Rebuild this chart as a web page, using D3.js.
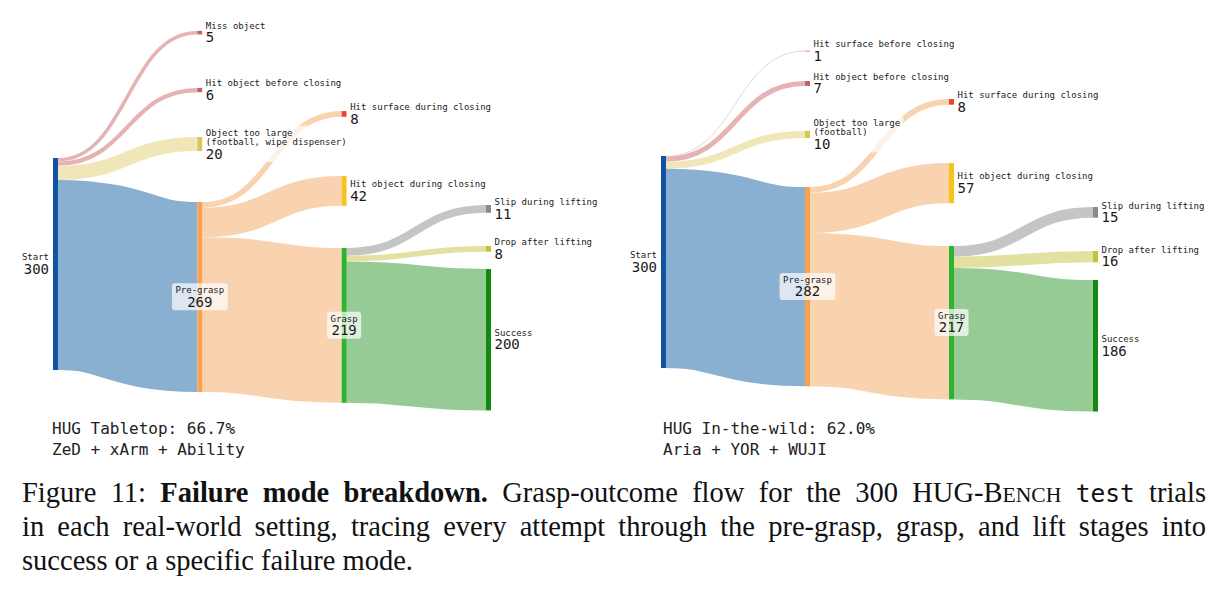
<!DOCTYPE html>
<html>
<head>
<meta charset="utf-8">
<script src="https://cdn.jsdelivr.net/npm/d3@7"></script>
<style>
  body { margin: 0; background: #fff; }
  svg { display: block; }
</style>
</head>
<body>
<div id="chart"></div>
<script>
// ---- data ----
var stages = ["Start", "Pre-grasp", "Grasp", "Success"];

var tabletopCounts = [300, 269, 219, 200];
var tabletopFailLabels = [
    ["Miss object", "Hit object before closing", "Object too large\n(football, wipe dispenser)"],
    ["Hit surface during closing", "Hit object during closing"],
    ["Slip during lifting", "Drop after lifting"]
];
var tabletopFailCounts = [[5, 6, 20], [8, 42], [11, 8]];
var tabletopTitle = ["HUG Tabletop: 66.7%", "ZeD + xArm + Ability"];

var wildCounts = [300, 282, 217, 186];
var wildFailLabels = [
    ["Hit surface before closing", "Hit object before closing", "Object too large\n(football)"],
    ["Hit surface during closing", "Hit object during closing"],
    ["Slip during lifting", "Drop after lifting"]
];
var wildFailCounts = [[1, 7, 10], [8, 57], [15, 16]];
var wildTitle = ["HUG In-the-wild: 62.0%", "Aria + YOR + WUJI"];

var captionLines = [
    [["Figure"], ["11:"], [{b: "Failure"}], [{b: "mode"}], [{b: "breakdown."}], ["Grasp-outcome"], ["flow"],
     ["for"], ["the"], ["300"], ["HUG-B", {sc: "ENCH"}], [{tt: "test"}], ["trials"]],
    [["in"], ["each"], ["real-world"], ["setting,"], ["tracing"], ["every"], ["attempt"], ["through"], ["the"],
     ["pre-grasp,"], ["grasp,"], ["and"], ["lift"], ["stages"], ["into"]],
    [["success"], ["or"], ["a"], ["specific"], ["failure"], ["mode."]]
];

// ---- styles ----
var stageColor = ["#0e54a0", "#f7a24e", "#2eb32e", "#128a12"];
var stageLinkColor = ["#8ab0d1", "#f9d3b0", "#96cb96"];
var failColor = {
    "Miss object": ["#c9605f", "#e5b3b3"],
    "Hit surface before closing": ["#c9605f", "#e8bcbc"],
    "Hit object before closing": ["#c9605f", "#e5b3b3"],
    "Object too large": ["#d8c45a", "#f0e6b7"],
    "Hit surface during closing": ["#e9452b", "#f9d3b0"],
    "Hit object during closing": ["#f6c31b", "#f9d3b0"],
    "Slip during lifting": ["#8a8a8a", "#c5c5c5"],
    "Drop after lifting": ["#c4c13a", "#e3e1a2"]
};
var mono = "DejaVu Sans Mono";
var nodeW = 5;

var svg = d3.select("#chart")
    .append("svg")
    .attr("width", 1227)
    .attr("height", 592);

// flow units -> pixels
var flow = d3.scaleLinear().domain([0, 300]).range([0, 212]);

function drawSankey(cfg) {
    var x = d3.scaleLinear().domain([0, 3]).range(cfg.xRange);
    var g = svg.append("g");
    var nodes = [], links = [];

    // main stage nodes
    var main = [];
    main[0] = {name: stages[0], value: cfg.counts[0], col: 0, y0: cfg.startTop, color: stageColor[0], kind: "start"};
    for (var c = 1; c < 4; c++) {
        var prev = main[c - 1];
        var failSum = d3.sum(cfg.failCounts[c - 1]);
        var linkTop = prev.y0 + flow(failSum);
        main[c] = {name: stages[c], value: cfg.counts[c], col: c, y0: linkTop + cfg.sag[c - 1],
                   color: stageColor[c], kind: c === 3 ? "end" : "mid"};
    }
    main.forEach(function (n) { n.y1 = n.y0 + flow(n.value); nodes.push(n); });

    // failure nodes, stacked upward from the main node of their column
    for (var c = 1; c < 4; c++) {
        var labels = cfg.failLabels[c - 1], counts = cfg.failCounts[c - 1];
        var gaps = cfg.gaps[c - 1];
        var top = main[c].y0;
        var fails = [];
        for (var j = labels.length - 1; j >= 0; j--) {
            var y1 = top - gaps[labels.length - 1 - j];
            var h = flow(counts[j]);
            var key = labels[j].split("\n")[0];
            fails[j] = {name: labels[j], value: counts[j], col: c, y0: y1 - h, y1: y1,
                        color: failColor[key][0], linkColor: failColor[key][1], kind: "end"};
            top = y1 - h;
        }
        // outgoing links of the source stage, in top-to-bottom order
        var sy = main[c - 1].y0;
        fails.forEach(function (f) {
            nodes.push(f);
            links.push({source: main[c - 1], target: f, sy: sy, value: f.value, color: f.linkColor});
            sy += flow(f.value);
        });
        links.push({source: main[c - 1], target: main[c], sy: sy, value: main[c].value, color: stageLinkColor[c - 1]});
    }

    nodes.forEach(function (n) { n.x0 = x(n.col); n.x1 = n.x0 + nodeW; });

    var linkGen = d3.linkHorizontal()
        .source(function (d) { return [d.source.x1, d.sy + flow(d.value) / 2]; })
        .target(function (d) { return [d.target.x0, (d.target.y0 + d.target.y1) / 2]; });

    g.append("g")
        .selectAll("path")
        .data(links)
        .enter()
        .append("path")
        .attr("d", linkGen)
        .attr("fill", "none")
        .attr("stroke", function (d) { return d.color; })
        .attr("stroke-width", function (d) { return Math.max(0.6, flow(d.value)); });

    g.append("g")
        .selectAll("rect")
        .data(nodes)
        .enter()
        .append("rect")
        .attr("x", function (d) { return d.x0; })
        .attr("y", function (d) { return d.y0; })
        .attr("width", nodeW)
        .attr("height", function (d) { return Math.max(0.7, d.y1 - d.y0); })
        .attr("fill", function (d) { return d.color; });

    // labels
    nodes.forEach(function (n) {
        var lines = n.name.split("\n");
        var nameH = 7 + (lines.length - 1) * 9.5;
        var blockH = nameH + 13.5;
        var cy = (n.y0 + n.y1) / 2;
        var top = cy - blockH / 2 - 0.5;
        var tx, anchor;
        if (n.kind === "start") { tx = n.x0 - 4; anchor = "end"; }
        else if (n.kind === "mid") { tx = (n.x0 + n.x1) / 2; anchor = "middle"; }
        else { tx = n.x1 + 3.5; anchor = "start"; }

        var lg = g.append("g");
        var box = lg.append("rect");
        var t = lg.append("text")
            .attr("font-family", mono)
            .attr("fill", "#1a1a1a")
            .attr("text-anchor", anchor);
        lines.forEach(function (s, i) {
            t.append("tspan").attr("x", tx).attr("y", top + 7 + i * 9.5)
                .attr("font-size", 9).text(s);
        });
        t.append("tspan").attr("x", tx).attr("y", top + blockH)
            .attr("font-size", 14).text(n.value);

        var bb = t.node().getBBox();
        box.attr("x", bb.x - 3.5).attr("y", top - 3)
            .attr("width", bb.width + 7).attr("height", blockH + 6.5)
            .attr("rx", 3)
            .attr("fill", "#fff")
            .attr("fill-opacity", n.kind === "start" ? 0 : 0.7);
    });

    // bottom title
    var tt = g.append("text")
        .attr("font-family", mono)
        .attr("font-size", 16)
        .attr("fill", "#222");
    cfg.title.forEach(function (s, i) {
        tt.append("tspan").attr("x", cfg.titleX).attr("y", 434 + i * 21).text(s);
    });
}

drawSankey({
    xRange: [53, 486], startTop: 158,
    counts: tabletopCounts, failLabels: tabletopFailLabels, failCounts: tabletopFailCounts,
    sag: [22.1, 10.7, 7.6],
    gaps: [[50.9, 44.8, 53.5], [42.3, 59.3], [17.4, 33.2]],
    title: tabletopTitle, titleX: 52
});

drawSankey({
    xRange: [661, 1093], startTop: 156,
    counts: wildCounts, failLabels: wildFailLabels, failCounts: wildFailCounts,
    sag: [18.3, 13.1, 12.1],
    gaps: [[49, 45, 29.6], [42.7, 58.4], [17.7, 33.4]],
    title: wildTitle, titleX: 663
});

// ---- caption, justified by hand ----
function drawCaption() {
    var size = 28.5, left = 22, right = 1206;
    var cg = svg.append("g").attr("font-family", "Liberation Serif").attr("fill", "#111");
    captionLines.forEach(function (words, li) {
        var y = 502 + li * 34;
        var items = words.map(function (w) {
            var t = cg.append("text").attr("y", y).attr("font-size", size);
            w.forEach(function (seg) {
                if (typeof seg === "string") t.append("tspan").text(seg);
                else if (seg.b) t.append("tspan").attr("font-weight", "bold").text(seg.b);
                else if (seg.sc) t.append("tspan").attr("font-size", size * 0.76).text(seg.sc);
                else if (seg.tt) t.append("tspan").attr("font-family", mono).attr("font-size", size * 0.86).text(seg.tt);
            });
            return {t: t, w: t.node().getComputedTextLength()};
        });
        var total = d3.sum(items, function (d) { return d.w; });
        var gap = li < captionLines.length - 1 ? (right - left - total) / (items.length - 1) : size * 0.25;
        var cx = left;
        items.forEach(function (d) {
            d.t.attr("x", cx);
            cx += d.w + gap;
        });
    });
}
drawCaption();
</script>
</body>
</html>
